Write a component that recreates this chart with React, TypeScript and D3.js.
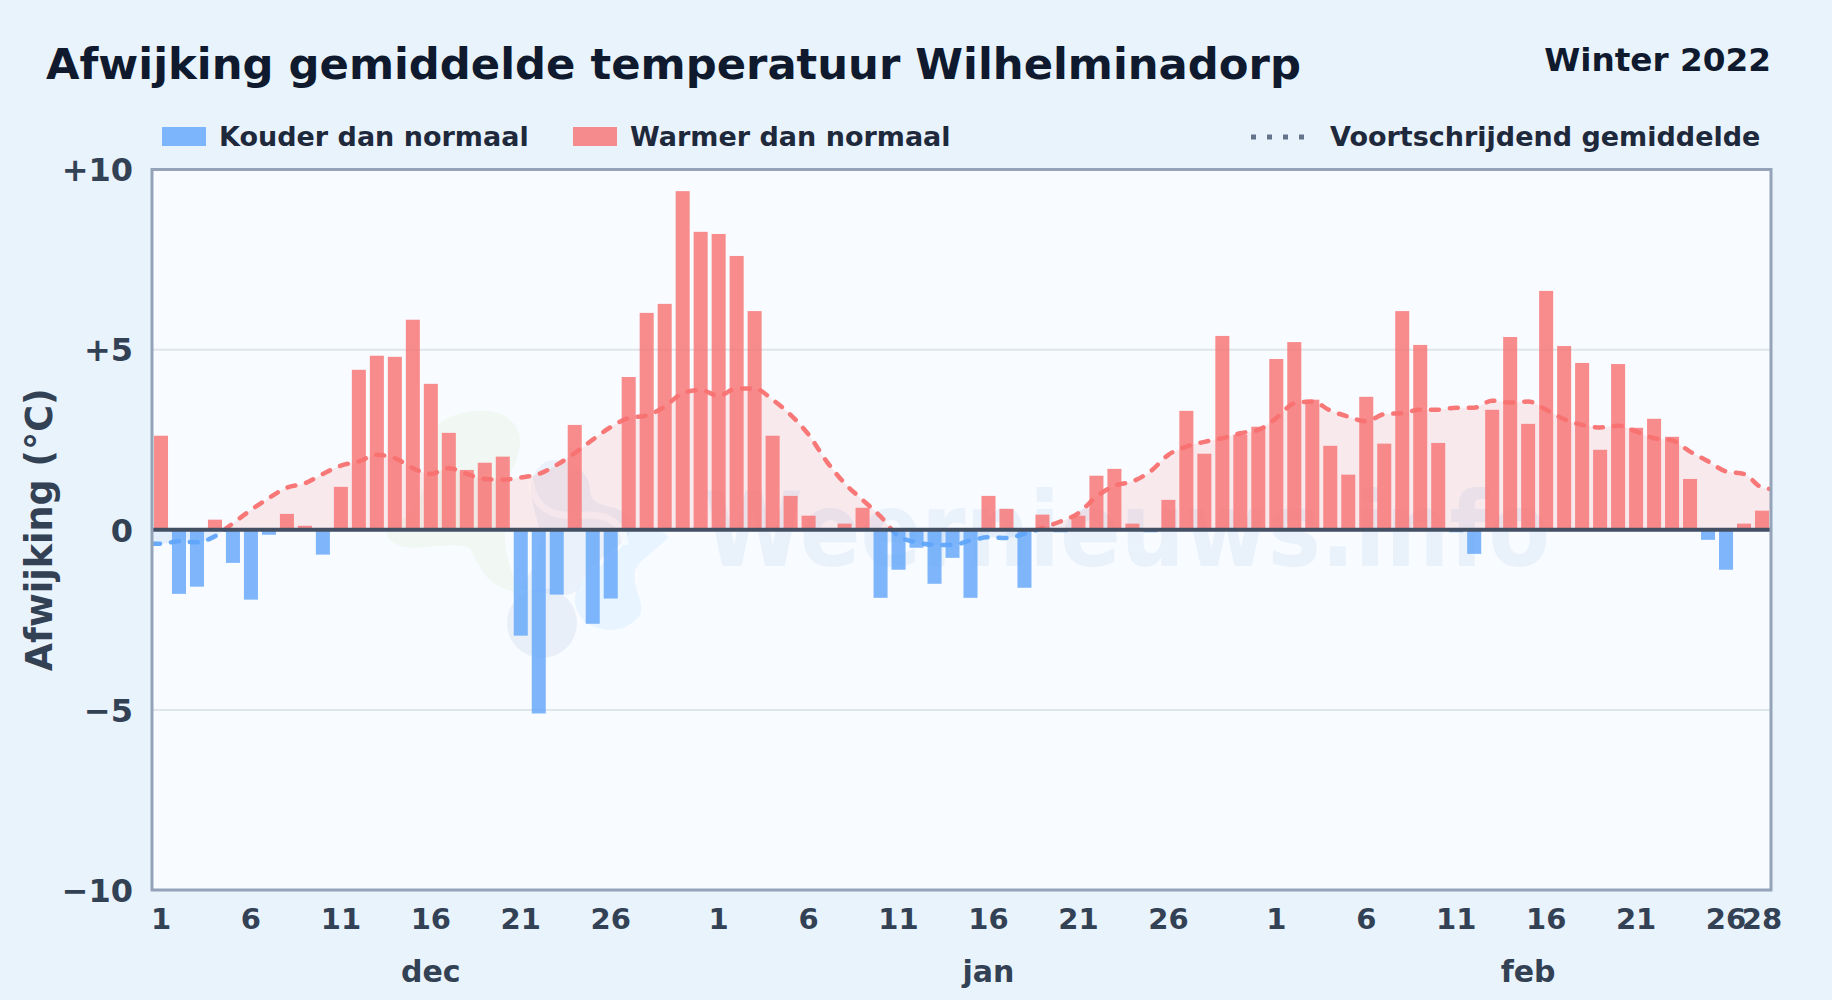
import { useEffect, useRef } from 'react';
import * as d3 from 'd3';

const width = 1832;
const height = 1000;
const margin = { top: 169.5, right: 61, bottom: 110, left: 152 };

const monthNames = ['dec', 'jan', 'feb'];
const monthLengths = [31, 31, 28];
const monthCenters = [15, 46, 76];

// afwijking per dag (graden t.o.v. normaal)
const decValues = [
  2.61, -1.78, -1.58, 0.28, -0.92, -1.94, -0.14, 0.44, 0.11, -0.69, 1.19, 4.44, 4.83, 4.8, 5.83, 4.05,
  2.69, 1.66, 1.86, 2.03, -2.94, -5.1, -1.8, 2.91, -2.61, -1.91, 4.24, 6.02, 6.27, 9.4, 8.27,
];
const janValues = [
  8.21, 7.6, 6.07, 2.61, 0.94, 0.39, 0, 0.17, 0.61, -1.89, -1.11, -0.5, -1.5, -0.78, -1.89, 0.94,
  0.58, -1.61, 0.42, -0.07, 0.39, 1.5, 1.69, 0.17, -0.07, 0.83, 3.3, 2.11, 5.38, 2.64, 2.86,
];
const febValues = [
  4.74, 5.21, 3.61, 2.33, 1.53, 3.69, 2.39, 6.07, 5.13, 2.41, -0.07, -0.67, 3.33, 5.35, 2.94, 6.63,
  5.1, 4.63, 2.22, 4.6, 2.83, 3.08, 2.58, 1.41, -0.28, -1.11, 0.17, 0.53,
];

// voortschrijdend gemiddelde
const decRolling = [
  -0.39, -0.32, -0.35, -0.18, 0.18, 0.55, 0.88, 1.17, 1.29, 1.55, 1.78, 1.9, 2.08, 1.99, 1.71, 1.55,
  1.71, 1.55, 1.41, 1.39, 1.45, 1.55, 1.8, 2.13, 2.5, 2.85, 3.1, 3.17, 3.42, 3.79, 3.88,
];
const janRolling = [
  3.72, 3.92, 3.92, 3.61, 3.19, 2.64, 1.9, 1.29, 0.83, 0.37, -0.18, -0.35, -0.42, -0.42, -0.3, -0.21,
  -0.23, -0.11, 0.05, 0.23, 0.46, 0.92, 1.22, 1.34, 1.62, 2.08, 2.31, 2.44, 2.54, 2.68, 2.77,
];
const febRolling = [
  3.1, 3.51, 3.56, 3.31, 3.14, 3.01, 3.21, 3.24, 3.33, 3.33, 3.39, 3.39, 3.58, 3.53, 3.56, 3.33,
  3.07, 2.91, 2.84, 2.89, 2.73, 2.54, 2.48, 2.17, 1.9, 1.62, 1.55, 1.17,
];

const yTicks = [10, 5, 0, -5, -10];
const xTickDays = [1, 6, 11, 16, 21, 26];

const fontFamily = '"DejaVu Sans", sans-serif';
const coldColor = '#60a5fa';
const warmColor = '#f87171';

export default function App() {
  const svgRef = useRef<SVGSVGElement>(null);

  useEffect(() => {
    if (!svgRef.current) return;
    const svg = d3.select(svgRef.current);
    svg.selectAll('*').remove();

    const values = [...decValues, ...janValues, ...febValues];
    const rolling = [...decRolling, ...janRolling, ...febRolling];

    const left = margin.left;
    const right = width - margin.right;
    const top = margin.top;
    const bottom = height - margin.bottom;

    const xScale = d3
      .scaleBand<number>()
      .domain(d3.range(values.length))
      .range([left, right])
      .paddingInner(0.22)
      .paddingOuter(0.11);
    const yScale = d3.scaleLinear().domain([-10, 10]).range([bottom, top]);
    const cx = (i: number) => xScale(i)! + xScale.bandwidth() / 2;

    // the average runs on to both plot edges
    const xLine = d3
      .scaleLinear()
      .domain([0, values.length - 1])
      .range([cx(0), cx(values.length - 1)]);
    const rollingPts: [number, number][] = [
      [-0.5, rolling[0]],
      ...rolling.map((v, i) => [i, v] as [number, number]),
      [values.length - 0.5, rolling[rolling.length - 1] - 0.04],
    ];

    // tick positions and their day labels
    const tickLabels = new Map<number, string>();
    let offset = 0;
    monthLengths.forEach((len) => {
      xTickDays.forEach((d) => tickLabels.set(offset + d - 1, String(d)));
      offset += len;
    });
    tickLabels.set(values.length - 1, '28');

    // background
    svg.append('rect').attr('width', width).attr('height', height).attr('fill', '#e9f3fc');
    svg
      .append('rect')
      .attr('x', left)
      .attr('y', top)
      .attr('width', right - left)
      .attr('height', bottom - top)
      .attr('fill', '#f8fbff');

    const defs = svg.append('defs');
    defs
      .append('clipPath')
      .attr('id', 'above')
      .append('rect')
      .attr('x', left)
      .attr('y', top)
      .attr('width', right - left)
      .attr('height', yScale(0) - top);
    defs
      .append('clipPath')
      .attr('id', 'below')
      .append('rect')
      .attr('x', left)
      .attr('y', yScale(0))
      .attr('width', right - left)
      .attr('height', bottom - yScale(0));

    // watermark logo and name
    const mark = svg.append('g');
    mark
      .append('path')
      .attr(
        'd',
        'M448,418 C470,408 500,408 510,420 C525,432 520,450 515,465 C505,480 505,495 510,515 C500,530 505,560 520,592 C490,590 480,570 470,548 C450,540 420,552 400,546 C385,540 385,530 390,525 C420,515 430,480 428,450 C428,435 435,425 448,418 Z'
      )
      .attr('fill', '#d9f0c4')
      .attr('opacity', 0.2);
    mark
      .append('circle')
      .attr('cx', 542)
      .attr('cy', 623)
      .attr('r', 35)
      .attr('fill', '#9db7dc')
      .attr('opacity', 0.16);
    mark
      .append('path')
      .attr(
        'd',
        'M545,462 C565,455 590,470 590,490 C590,505 605,505 615,508 C635,515 635,530 625,540 C610,555 590,560 578,590 C565,600 550,592 520,590 C525,575 540,570 540,530 C535,510 520,480 545,462 Z'
      )
      .attr('fill', '#9db7dc')
      .attr('opacity', 0.14);
    mark
      .append('path')
      .attr(
        'd',
        'M628,530 C650,525 665,530 668,538 C650,555 640,560 635,570 C632,590 645,600 640,615 C625,635 600,632 585,622 C570,605 572,590 590,572 C610,560 625,550 628,530 Z'
      )
      .attr('fill', '#b8e0ff')
      .attr('opacity', 0.25);
    mark
      .append('path')
      .attr('d', 'M530,480 C535,515 560,518 590,515 C610,515 625,525 625,545')
      .attr('fill', 'none')
      .attr('stroke', '#ffffff')
      .attr('stroke-width', 7)
      .attr('opacity', 0.5);
    mark
      .append('text')
      .attr('x', 704)
      .attr('y', 566)
      .attr('font-family', fontFamily)
      .attr('font-size', 103)
      .attr('font-weight', 700)
      .attr('fill', '#5b93d6')
      .attr('opacity', 0.09)
      .attr('textLength', 846)
      .attr('lengthAdjust', 'spacingAndGlyphs')
      .text('Weernieuws.info');

    // gridlines
    svg
      .append('g')
      .selectAll('line')
      .data(yTicks.filter((t) => t === 5 || t === -5))
      .enter()
      .append('line')
      .attr('x1', left)
      .attr('x2', right)
      .attr('y1', (d) => yScale(d))
      .attr('y2', (d) => yScale(d))
      .attr('stroke', '#dfe6ea')
      .attr('stroke-width', 2);

    // area under rolling average
    const area = d3
      .area<[number, number]>()
      .x((d) => xLine(d[0]))
      .y0(yScale(0))
      .y1((d) => yScale(d[1]))
      .curve(d3.curveMonotoneX);
    svg
      .append('path')
      .attr('d', area(rollingPts))
      .attr('fill', warmColor)
      .attr('opacity', 0.13)
      .attr('clip-path', 'url(#above)');
    svg
      .append('path')
      .attr('d', area(rollingPts))
      .attr('fill', coldColor)
      .attr('opacity', 0.13)
      .attr('clip-path', 'url(#below)');

    // bars
    svg
      .append('g')
      .selectAll('rect')
      .data(values)
      .enter()
      .append('rect')
      .attr('x', (_, i) => xScale(i)!)
      .attr('y', (d) => yScale(Math.max(d, 0)))
      .attr('width', xScale.bandwidth())
      .attr('height', (d) => Math.abs(yScale(d) - yScale(0)))
      .attr('fill', (d) => (d < 0 ? coldColor : warmColor))
      .attr('opacity', 0.8);

    // rolling average line
    const line = d3
      .line<[number, number]>()
      .x((d) => xLine(d[0]))
      .y((d) => yScale(d[1]))
      .curve(d3.curveMonotoneX);
    [
      { id: 'above', color: warmColor },
      { id: 'below', color: coldColor },
    ].forEach((part) => {
      svg
        .append('path')
        .attr('d', line(rollingPts))
        .attr('fill', 'none')
        .attr('stroke', part.color)
        .attr('stroke-width', 4.5)
        .attr('stroke-linecap', 'round')
        .attr('stroke-dasharray', '8 11')
        .attr('opacity', 0.95)
        .attr('clip-path', `url(#${part.id})`);
    });

    // zero line
    svg
      .append('line')
      .attr('x1', left)
      .attr('x2', right)
      .attr('y1', yScale(0))
      .attr('y2', yScale(0))
      .attr('stroke', '#434f63')
      .attr('stroke-width', 4);

    // plot border
    svg
      .append('rect')
      .attr('x', left)
      .attr('y', top)
      .attr('width', right - left)
      .attr('height', bottom - top)
      .attr('fill', 'none')
      .attr('stroke', '#94a3b8')
      .attr('stroke-width', 3);

    // axes
    const yAxis = d3
      .axisLeft(yScale)
      .tickValues(yTicks)
      .tickSize(0)
      .tickPadding(19)
      .tickFormat((d) => {
        const v = Number(d);
        if (v > 0) return `+${v}`;
        if (v < 0) return `\u2212${-v}`;
        return '0';
      });
    const yG = svg.append('g').attr('transform', `translate(${left},1)`).call(yAxis);
    yG.select('.domain').remove();
    yG.selectAll('text')
      .attr('font-family', fontFamily)
      .attr('font-size', 32)
      .attr('font-weight', 700)
      .attr('fill', '#334155');

    const xAxis = d3
      .axisBottom(xScale)
      .tickValues(Array.from(tickLabels.keys()))
      .tickSize(0)
      .tickPadding(18)
      .tickFormat((d) => tickLabels.get(d as number) ?? '');
    const xG = svg.append('g').attr('transform', `translate(0,${bottom})`).call(xAxis);
    xG.select('.domain').remove();
    xG.selectAll('text')
      .attr('font-family', fontFamily)
      .attr('font-size', 29)
      .attr('font-weight', 700)
      .attr('fill', '#334155');

    // month labels
    svg
      .append('g')
      .selectAll('text')
      .data(monthNames)
      .enter()
      .append('text')
      .attr('x', (_, i) => cx(monthCenters[i]))
      .attr('y', 982)
      .attr('text-anchor', 'middle')
      .attr('font-family', fontFamily)
      .attr('font-size', 30)
      .attr('font-weight', 700)
      .attr('fill', '#334155')
      .text((d) => d);

    svg
      .append('text')
      .attr('transform', `translate(52,${yScale(0)}) rotate(-90)`)
      .attr('text-anchor', 'middle')
      .attr('font-family', fontFamily)
      .attr('font-size', 36.5)
      .attr('font-weight', 700)
      .attr('fill', '#334155')
      .text('Afwijking (°C)');

    // title
    svg
      .append('text')
      .attr('x', 46)
      .attr('y', 79)
      .attr('font-family', fontFamily)
      .attr('font-size', 43.3)
      .attr('font-weight', 700)
      .attr('fill', '#0f1a2e')
      .text('Afwijking gemiddelde temperatuur Wilhelminadorp');
    svg
      .append('text')
      .attr('x', 1771)
      .attr('y', 71)
      .attr('text-anchor', 'end')
      .attr('font-family', fontFamily)
      .attr('font-size', 32.7)
      .attr('font-weight', 700)
      .attr('fill', '#0f1a2e')
      .text('Winter 2022');

    // legend
    const legendText = (x: number, label: string) =>
      svg
        .append('text')
        .attr('x', x)
        .attr('y', 146)
        .attr('font-family', fontFamily)
        .attr('font-size', 27)
        .attr('font-weight', 700)
        .attr('fill', '#1e293b')
        .text(label);
    svg
      .append('rect')
      .attr('x', 162)
      .attr('y', 127)
      .attr('width', 44)
      .attr('height', 19)
      .attr('fill', coldColor)
      .attr('opacity', 0.8);
    legendText(219, 'Kouder dan normaal');
    svg
      .append('rect')
      .attr('x', 573)
      .attr('y', 127)
      .attr('width', 44)
      .attr('height', 19)
      .attr('fill', warmColor)
      .attr('opacity', 0.8);
    legendText(630, 'Warmer dan normaal');
    svg
      .append('line')
      .attr('x1', 1251)
      .attr('x2', 1307)
      .attr('y1', 137)
      .attr('y2', 137)
      .attr('stroke', '#64748b')
      .attr('stroke-width', 5)
      .attr('stroke-dasharray', '5 11');
    legendText(1330, 'Voortschrijdend gemiddelde');
  }, []);

  return (
    <>
      <style>{'body{margin:0}'}</style>
      <svg ref={svgRef} width={width} height={height} style={{ display: 'block' }} />
    </>
  );
}
